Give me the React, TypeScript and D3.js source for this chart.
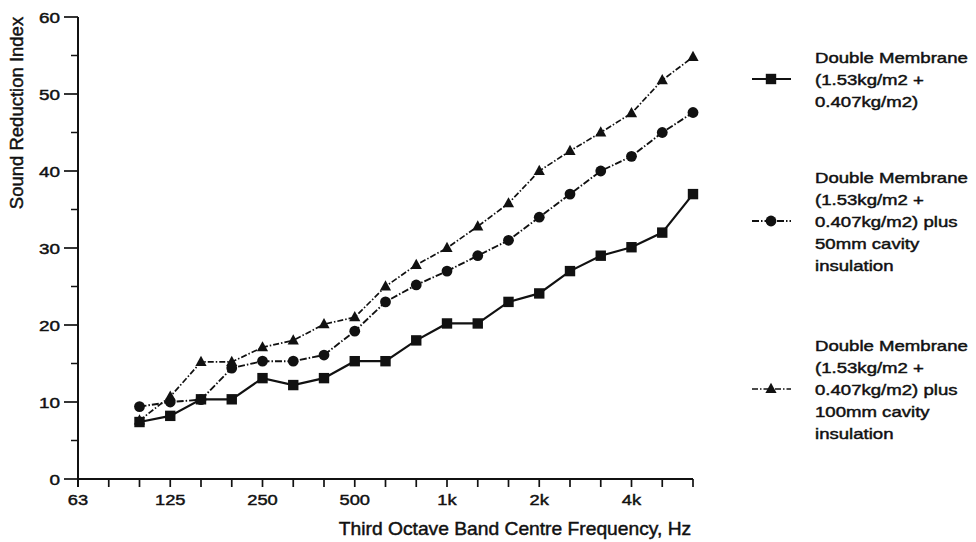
import React from "react";
import * as d3 from "d3";

const bandLabels = ["63","80","100","125","160","200","250","315","400","500","630","800","1k","1.25k","1.6k","2k","2.5k","3.15k","4k","5k","6.3k"];
const labelledBands = ["63","125","250","500","1k","2k","4k"];
const dataBands = ["100","125","160","200","250","315","400","500","630","800","1k","1.25k","1.6k","2k","2.5k","3.15k","4k","5k","6.3k"];

const seriesPlain = [7.4, 8.2, 10.35, 10.35, 13.1, 12.2, 13.1, 15.3, 15.3, 18, 20.2, 20.2, 23, 24.1, 27, 29, 30.1, 32, 37];
const series50mm = [9.4, 10, 10.3, 14.4, 15.3, 15.3, 16.1, 19.2, 23, 25.2, 27, 29, 31, 34, 37, 40, 41.9, 45, 47.6];
const series100mm = [7.6, 10.7, 15.2, 15.2, 17.1, 18, 20.1, 21, 25, 27.8, 30, 32.8, 35.8, 40, 42.6, 45, 47.5, 51.8, 54.8];

const yMajorTicks = [0, 10, 20, 30, 40, 50, 60];
const yMinorTicks = [5, 15, 25, 35, 45, 55];

const legend1 = ["Double Membrane", "(1.53kg/m2 +", "0.407kg/m2)"];
const legend2 = ["Double Membrane", "(1.53kg/m2 +", "0.407kg/m2) plus", "50mm cavity", "insulation"];
const legend3 = ["Double Membrane", "(1.53kg/m2 +", "0.407kg/m2) plus", "100mm cavity", "insulation"];

const FONT = "'Liberation Sans', Arial, Helvetica, sans-serif";
const INK = "#111";

function Marker({ type, x, y }: { type: string; x: number; y: number }) {
  if (type === "square") return <rect x={x - 5.2} y={y - 5.2} width={10.4} height={10.4} fill={INK} />;
  if (type === "circle") return <circle cx={x} cy={y} r={5.4} fill={INK} />;
  return <path d={`M${x},${y - 6.2} L${x + 5.6},${y + 4} L${x - 5.6},${y + 4} Z`} fill={INK} />;
}

function SText({ x, y, sx = 1, size, anchor = "start", children }: any) {
  return (
    <text
      transform={`translate(${x},${y}) scale(${sx},1)`}
      textAnchor={anchor}
      fontFamily={FONT}
      fontSize={size}
      fill={INK}
      stroke={INK}
      strokeWidth={0.45}
    >
      {children}
    </text>
  );
}

export default function App() {
  const W = 976, H = 542;
  const x = d3.scaleLinear().domain([0, bandLabels.length - 1]).range([78, 693]);
  const y = d3.scaleLinear().domain([0, 60]).range([479, 17]);
  const bx = (b: string) => x(bandLabels.indexOf(b));

  const series = [
    { values: series50mm, type: "circle", dash: "7,2,1.5,2", width: 1.9, legendY: 221, lines: legend2, top: 177 },
    { values: series100mm, type: "triangle", dash: "6,2,1.5,2", width: 1.7, legendY: 389, lines: legend3, top: 345 },
    { values: seriesPlain, type: "square", dash: null, width: 2.2, legendY: 79, lines: legend1, top: 57 },
  ];

  const line = d3
    .line<number>()
    .x((_, i) => bx(dataBands[i]))
    .y((v) => y(v));

  return (
    <svg width={W} height={H} style={{ position: "absolute", left: 0, top: 0, background: "#fff" }}>
      {/* y axis */}
      <line x1={78} x2={78} y1={y(60)} y2={487} stroke={INK} strokeWidth={2} />
      {yMajorTicks.map((t) => (
        <g key={"yt" + t}>
          <line x1={64} x2={78} y1={y(t)} y2={y(t)} stroke={INK} strokeWidth={1.7} />
          <SText x={60} y={y(t) + 5.5} sx={1.22} size={15.5} anchor="end">{t}</SText>
        </g>
      ))}
      {yMinorTicks.map((t) => (
        <line key={"ym" + t} x1={71} x2={78} y1={y(t)} y2={y(t)} stroke={INK} strokeWidth={1.5} />
      ))}
      {/* x axis */}
      <line x1={78} x2={693} y1={479} y2={479} stroke={INK} strokeWidth={2} />
      {bandLabels.map((b, i) => (
        <line key={"xt" + b} x1={x(i)} x2={x(i)} y1={479} y2={487} stroke={INK} strokeWidth={1.7} />
      ))}
      {labelledBands.map((b) => (
        <SText key={"xl" + b} x={bx(b)} y={505} sx={1.18} size={15.5} anchor="middle">{b}</SText>
      ))}
      <SText x={515} y={535} sx={1.04} size={18.5} anchor="middle">Third Octave Band Centre Frequency, Hz</SText>
      <text
        transform={`translate(23,113) rotate(-90)`}
        textAnchor="middle"
        fontFamily={FONT}
        fontSize={18.5}
        fill={INK}
        stroke={INK}
        strokeWidth={0.45}
      >
        Sound Reduction Index
      </text>

      {/* series */}
      {series.map((s, si) => (
        <g key={"s" + si}>
          <path d={line(s.values) || ""} fill="none" stroke={INK} strokeWidth={s.width} strokeDasharray={s.dash || undefined} />
        </g>
      ))}
      {series.map((s, si) => (
        <g key={"m" + si}>
          {s.values.map((v, i) => (
            <Marker key={i} type={s.type} x={bx(dataBands[i])} y={y(v)} />
          ))}
        </g>
      ))}

      {/* legend */}
      {series.map((s, si) => (
        <g key={"lg" + si}>
          <line x1={752} x2={791} y1={s.legendY} y2={s.legendY} stroke={INK} strokeWidth={s.width} strokeDasharray={s.dash || undefined} />
          <Marker type={s.type} x={771} y={s.legendY} />
          {s.lines.map((t, li) => (
            <SText key={li} x={815} y={s.top + 5.5 + li * 22} sx={1.24} size={15} anchor="start">{t}</SText>
          ))}
        </g>
      ))}
    </svg>
  );
}
